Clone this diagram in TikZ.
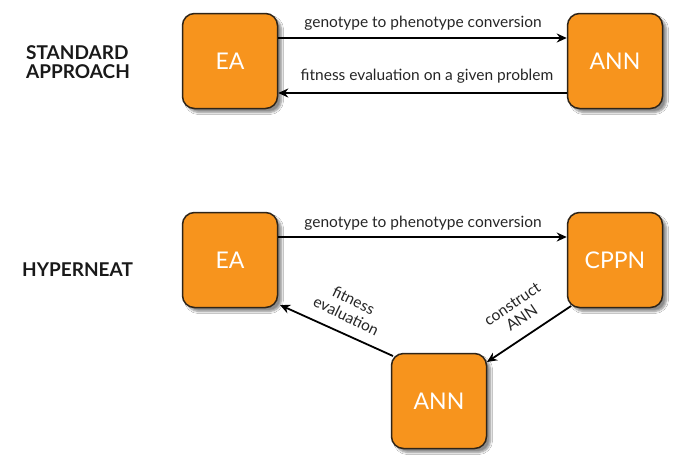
\documentclass[tikz,border=0pt]{standalone}
\usepackage{fontspec}
\setmainfont{Lato}
\usetikzlibrary{arrows.meta,shadows.blur}
\definecolor{boxorange}{HTML}{F7941D}
\definecolor{boxedge}{HTML}{2E2418}
\tikzset{
  obox/.style={draw=boxedge, line width=1.5pt, fill=boxorange, rounded corners=12pt,
    minimum width=95pt, minimum height=95pt, inner sep=0pt,
    text=white, font=\fontsize{23}{25}\selectfont,
    blur shadow={shadow xshift=4pt, shadow yshift=-4pt, shadow blur steps=6, shadow opacity=45}},
  conn/.style={draw=black, line width=1.8pt, -{Stealth[length=10pt,width=9pt]}},
  lbl/.style={font=\fontsize{15.5}{17}\selectfont, text=black!85, inner sep=1pt},
  side/.style={font=\fontsize{19}{19}\selectfont\bfseries, align=left, text=black!90, inner sep=0pt}
}
\begin{document}
\begin{tikzpicture}[x=1pt,y=-1pt]
\useasboundingbox[fill=white] (0,0) rectangle (700,461);
% labels
\node[side, anchor=west] (std) at (26,62) {STANDARD\\APPROACH};
\node[side, anchor=west] (hyp) at (22,270) {HYPERNEAT};
% top row
\node[obox] (ea1) at (230,61) {EA};
\node[obox] (ann1) at (615,61) {ANN};
\draw[conn] (ea1.east |- 0,38) coordinate (a1) -- (ann1.west |- 0,38) coordinate (b1);
\draw[conn] (ann1.west |- 0,93) coordinate (a2) -- (ea1.east |- 0,93) coordinate (b2);
\node[lbl] (l1) at (423,23) {genotype to phenotype conversion};
\node[lbl] (l2) at (427,76) {fitness evaluation on a given problem};
% bottom
\node[obox] (ea2) at (230,260) {EA};
\node[obox] (cppn) at (615,260) {CPPN};
\node[obox] (ann2) at (439,401) {ANN};
\draw[conn] (ea2.east |- 0,237) -- (cppn.west |- 0,237);
\node[lbl] (l3) at (423,223) {genotype to phenotype conversion};
\coordinate (f1) at (393,356);
\coordinate (f2) at (280,305);
\draw[conn] (f1) -- (f2);
\coordinate (c1) at (571,306);
\coordinate (c2) at (487,362);
\draw[conn] (c1) -- (c2);
\node[lbl, align=center, rotate=-26] (l4) at (350,308) {fitness\\evaluation};
\node[lbl, align=center, rotate=34] (l5) at (517,311) {construct\\ANN};
\end{tikzpicture}
\end{document}
